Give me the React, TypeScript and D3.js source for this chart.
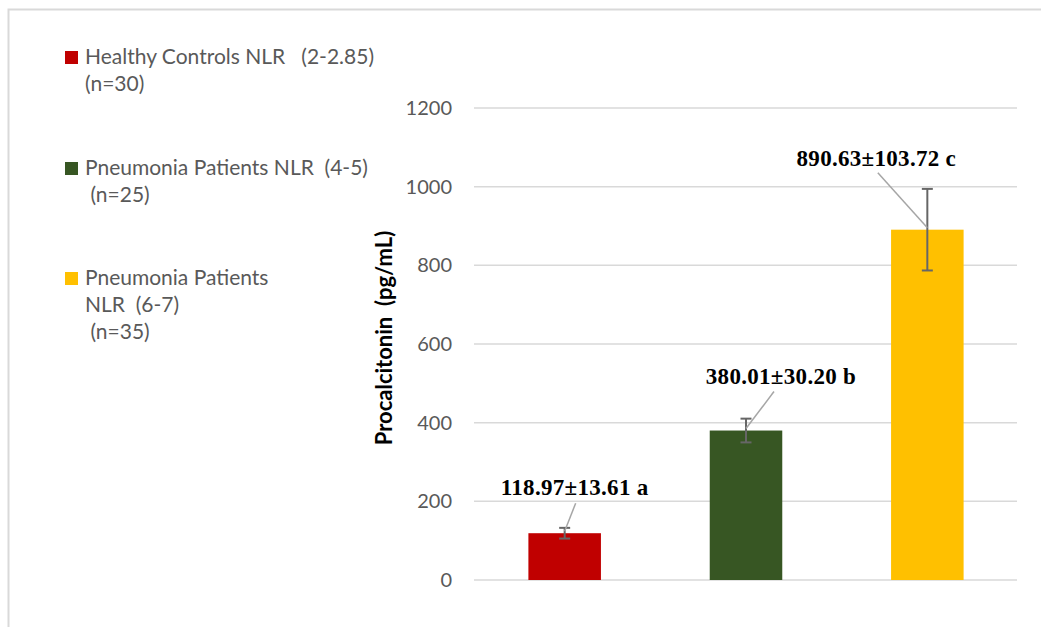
import React from "react";
import * as d3 from "d3";

const categories = ["Healthy Controls", "Pneumonia NLR 4-5", "Pneumonia NLR 6-7"];
const means = [118.97, 380.01, 890.63];
const sds = [13.61, 30.2, 103.72];
const barLabels = ["118.97±13.61 a", "380.01±30.20 b", "890.63±103.72 c"];
const colors = ["#C00000", "#375623", "#FFC000"];
const yTicks = [0, 200, 400, 600, 800, 1000, 1200];
const legendLines = [
  ["Healthy Controls NLR   (2-2.85)", "(n=30)"],
  ["Pneumonia Patients NLR  (4-5)", " (n=25)"],
  ["Pneumonia Patients", "NLR  (6-7)", " (n=35)"],
];
// label centers relative to bar top center (dx, dy), and leader start relative to label center
const labelOffsets = [
  [10, -46],
  [35, -55],
  [-51, -72],
];
const leaderOffsets = [
  [1, 16],
  [-7, 16],
  [1.5, 15],
];

export default function App() {
  const W = 1041, H = 627;
  const x = d3.scaleBand<string>().domain(categories).range([474, 1018]).paddingInner(0.6).paddingOuter(0.3);
  const y = d3.scaleLinear().domain([0, 1200]).range([580, 108]);
  const sans = "Lato, 'Open Sans', sans-serif";
  const legendY = [57, 168, 278];
  return (
    <svg width={W} height={H} style={{ position: "absolute", left: 0, top: 0 }}>
      <rect x={0} y={0} width={W} height={H} fill="#fff" />
      <path d={`M8.5,${H} V9.5 H${W}`} fill="none" stroke="#d9d9d9" strokeWidth={2} />
      {yTicks.map((t) => (
        <g key={t}>
          <line x1={474} x2={1017} y1={y(t)} y2={y(t)} stroke="#d9d9d9" strokeWidth={1.5} />
          <text x={452} y={y(t)} dy="0.35em" textAnchor="end" fontFamily={sans} fontSize={20} fill="#595959">{t}</text>
        </g>
      ))}
      <text transform={`translate(392,338) rotate(-90)`} textAnchor="middle" fontFamily={sans} fontWeight="bold" fontSize={22} fill="#000" style={{ whiteSpace: "pre" }}>Procalcitonin  (pg/mL)</text>
      {categories.map((c, i) => {
        const bx = x(c)!;
        const cx = bx + x.bandwidth() / 2;
        const top = y(means[i]);
        const lx = cx + labelOffsets[i][0];
        const ly = top + labelOffsets[i][1];
        return (
          <g key={c}>
            <rect x={bx} y={top} width={x.bandwidth()} height={y(0) - top} fill={colors[i]} />
            <line x1={cx} x2={cx} y1={y(means[i] + sds[i])} y2={y(means[i] - sds[i])} stroke="#666" strokeWidth={2} />
            <line x1={cx - 5.5} x2={cx + 5.5} y1={y(means[i] + sds[i])} y2={y(means[i] + sds[i])} stroke="#666" strokeWidth={2} />
            <line x1={cx - 5.5} x2={cx + 5.5} y1={y(means[i] - sds[i])} y2={y(means[i] - sds[i])} stroke="#666" strokeWidth={2} />
            <line x1={lx + leaderOffsets[i][0]} y1={ly + leaderOffsets[i][1]} x2={cx} y2={top - 2} stroke="#a6a6a6" strokeWidth={1.5} />
            <text x={lx} y={ly} dy="0.35em" textAnchor="middle" fontFamily="'Liberation Serif', 'Times New Roman', serif" fontWeight="bold" fontSize={23} letterSpacing={0.3} fill="#000">{barLabels[i]}</text>
          </g>
        );
      })}
      {legendLines.map((lines, i) => (
        <g key={i}>
          <rect x={65} y={legendY[i] - 6} width={13} height={13} fill={colors[i]} />
          {lines.map((l, j) => (
            <text key={j} x={85} y={legendY[i] + j * 27} dy="0.35em" fontFamily={sans} fontSize={21} fill="#595959" style={{ whiteSpace: "pre" }}>{l}</text>
          ))}
        </g>
      ))}
    </svg>
  );
}
